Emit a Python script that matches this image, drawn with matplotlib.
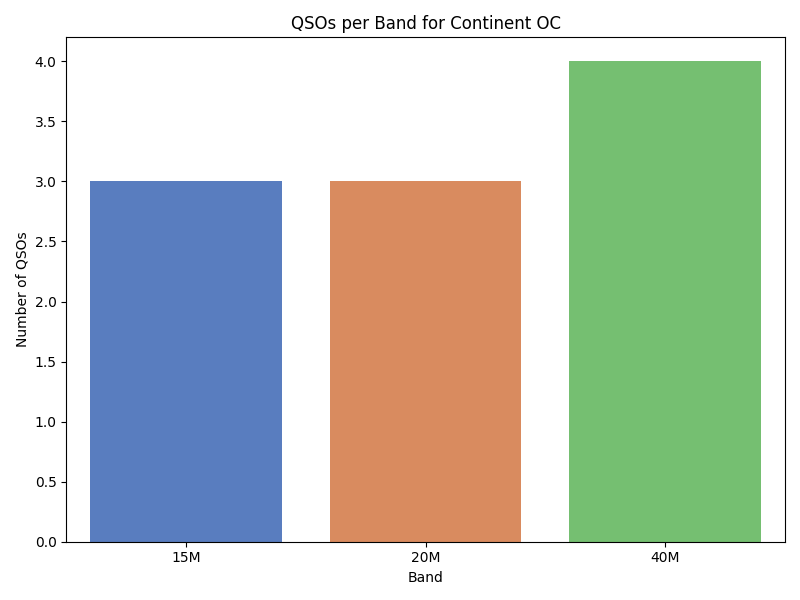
import matplotlib
matplotlib.use("Agg")
import matplotlib.pyplot as plt
import seaborn as sns
import pandas as pd

bands = ["15M", "20M", "40M"]
counts = [3, 3, 4]

df = pd.DataFrame({"Band": bands, "Count": counts})

fig, ax = plt.subplots(figsize=(8, 6), dpi=100)
sns.barplot(data=df, x="Band", y="Count", hue="Band", palette="muted", legend=False, ax=ax)
ax.set_title("QSOs per Band for Continent OC")
ax.set_xlabel("Band")
ax.set_ylabel("Number of QSOs")
plt.tight_layout()
plt.savefig("out.png")
